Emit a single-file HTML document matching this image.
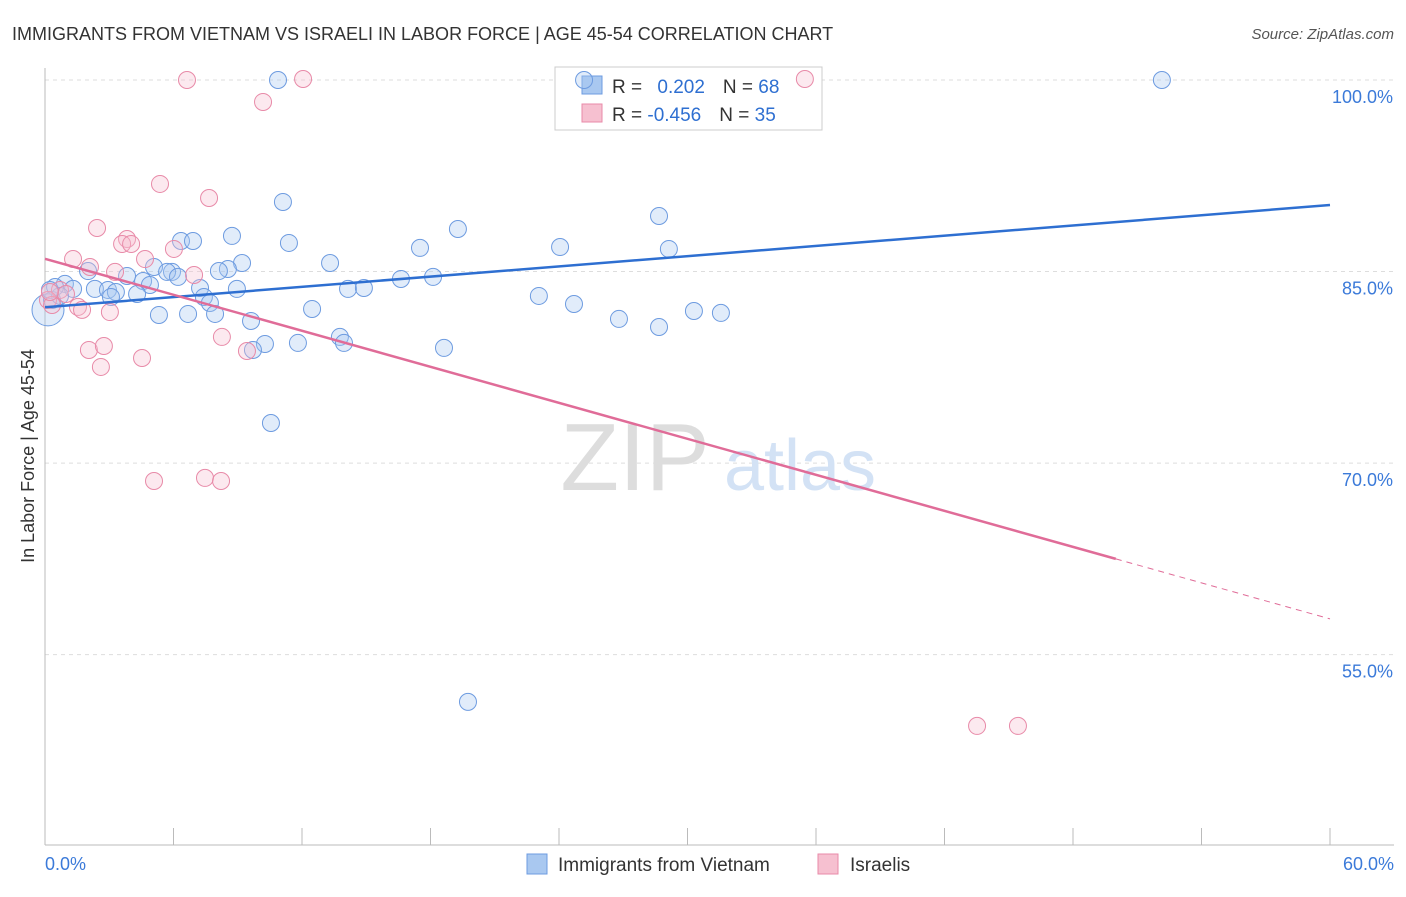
<!DOCTYPE html>
<html><head><meta charset="utf-8">
<style>
body{margin:0;background:#fff;font-family:"Liberation Sans",sans-serif;}
svg text{font-family:"Liberation Sans",sans-serif;}
</style></head>
<body>
<svg id="chart" width="1406" height="892" viewBox="0 0 1406 892" xmlns="http://www.w3.org/2000/svg">
<text x="12" y="40" font-size="18" fill="#333">IMMIGRANTS FROM VIETNAM VS ISRAELI IN LABOR FORCE | AGE 45-54 CORRELATION CHART</text>
<text x="1394" y="39" font-size="15" fill="#555" font-style="italic" text-anchor="end">Source: ZipAtlas.com</text>
<g id="grid"></g>
<g>
<text x="635" y="490" font-size="96" fill="#ddd" font-family="Liberation Serif" text-anchor="middle">ZIP</text>
<text x="800" y="490" font-size="72" fill="#d3e2f5" text-anchor="middle">atlas</text>
</g>
<g id="axes"></g>
<g>
<rect x="555" y="67" width="267" height="63" fill="#fff" stroke="#ccc"/>
<rect x="582" y="76" width="20" height="18" fill="#a9c8f0" stroke="#6d9be0"/>
<rect x="582" y="104" width="20" height="18" fill="#f6c0d0" stroke="#e88aa8"/>
<text x="612" y="93" font-size="19" fill="#333">R = <tspan fill="#2e6fd1" dx="10">0.202</tspan><tspan dx="18">N = </tspan><tspan fill="#2e6fd1">68</tspan></text>
<text x="612" y="121" font-size="19" fill="#333">R = <tspan fill="#2e6fd1">-0.456</tspan><tspan dx="18">N = </tspan><tspan fill="#2e6fd1">35</tspan></text>
</g>
<g id="pts"></g>
<g id="lines"></g>
<g>
<rect x="527" y="854" width="20" height="20" fill="#a9c8f0" stroke="#6d9be0"/>
<text x="558" y="871" font-size="19" fill="#333">Immigrants from Vietnam</text>
<rect x="818" y="854" width="20" height="20" fill="#f6c0d0" stroke="#e88aa8"/>
<text x="850" y="871" font-size="19" fill="#333">Israelis</text>
</g>
<text transform="translate(34,456) rotate(-90)" font-size="18" fill="#333" text-anchor="middle">In Labor Force | Age 45-54</text>
</svg>
<script>
const xTicks=[0,6,12,18,24,30,36,42,48,54,60];
const yTicks=[100,85,70,55];
const yTickLabels=["100.0%","85.0%","70.0%","55.0%"];
const blueX=[10.88,52.15,25.17,11.11,28.67,19.28,8.73,6.35,6.91,11.39,24.05,17.51,29.13,9.20,13.31,8.54,8.12,5.09,5.93,5.70,2.01,3.83,6.21,16.62,18.12,4.58,4.90,0.93,0.47,1.31,2.33,2.94,3.31,7.24,8.96,14.15,14.89,4.30,3.08,7.42,7.70,23.06,24.70,12.47,5.32,6.68,7.94,30.30,31.56,26.80,28.67,9.62,13.77,13.96,11.81,10.27,9.71,18.63,10.55,19.75,0.14,0.33,0.70,0.23];
const blueY=[100,100,100,90.45,89.35,88.33,87.79,87.39,87.39,87.24,86.92,86.85,86.77,85.67,85.67,85.2,85.04,85.36,84.97,84.97,85.04,84.65,84.58,84.42,84.58,84.26,83.95,84.03,83.79,83.64,83.64,83.56,83.4,83.71,83.64,83.64,83.71,83.24,83.01,83.01,82.54,83.09,82.46,82.07,81.6,81.68,81.68,81.91,81.76,81.29,80.66,81.13,79.88,79.41,79.41,79.33,78.86,79.02,73.14,51.3,82.0,82.77,83.09,83.56];
const pinkX=[6.63,12.05,35.48,10.18,5.37,7.66,2.43,3.83,3.60,4.02,1.31,4.67,6.02,2.10,3.27,6.96,0.70,0.98,1.54,1.73,3.03,0.14,0.33,8.26,2.05,2.75,9.43,4.53,2.61,5.09,7.47,8.22,43.52,45.43,0.23];
const pinkY=[100,100.08,100.08,98.28,91.86,90.76,88.41,87.55,87.16,87.16,85.98,85.98,86.77,85.36,84.97,84.73,83.56,83.24,82.23,82.0,81.83,82.77,82.38,79.88,78.86,79.17,78.78,78.23,77.53,68.6,68.84,68.6,49.42,49.42,83.4];
const blueTrend=[82.2,0.1335];
const pinkTrend=[86.0,-0.47];
const pinkSolidEnd=50;
const X=v=>45+v/60*1285;
const Y=v=>80+(100-v)*12.77;
const NS="http://www.w3.org/2000/svg";
function mk(tag,attrs,parent){const e=document.createElementNS(NS,tag);for(const k in attrs)e.setAttribute(k,attrs[k]);parent.appendChild(e);return e;}
const grid=document.getElementById('grid'),axes=document.getElementById('axes'),pts=document.getElementById('pts'),lines=document.getElementById('lines');
yTicks.forEach((t,i)=>{
 const l=mk('line',{x1:45,x2:1394,y1:Y(t),y2:Y(t),stroke:'#ddd','stroke-dasharray':'4,4'},grid);
 
 
 const tx=mk('text',{x:1393,y:Y(t)+23,'font-size':18,fill:'#3b7ad9','text-anchor':'end'},axes);
 tx.textContent=yTickLabels[i];
 
 
});
const ax=mk('line',{x1:45,x2:45,y1:68,y2:845,stroke:'#bbb'},axes);


const bx=mk('line',{x1:45,x2:1394,y1:845,y2:845,stroke:'#bbb'},axes);


xTicks.forEach(t=>{
 const l=mk('line',{x1:X(t),x2:X(t),y1:828,y2:845,stroke:'#bbb'},axes);
 
 
});
[[0,'0.0%','start',45],[60,'60.0%','end',1394]].forEach(d=>{
 const tx=mk('text',{x:d[3],y:870,'font-size':18,fill:'#3b7ad9','text-anchor':d[2]},axes);
 tx.textContent=d[1];
 
 
});
function dots(xs,ys,fill,stroke,name){
 xs.forEach((x,i)=>{
  const big=(x<0.2&&Math.abs(ys[i]-82)<0.1);
  const c=mk('circle',{cx:X(x),cy:Y(ys[i]),r:big?16:8.5,fill:fill,'fill-opacity':0.35,stroke:stroke,'stroke-width':1},pts);
  
  
 });
}
dots(blueX,blueY,'#a9c8f0','#6d9be0','vietnam-point');
dots(pinkX,pinkY,'#f6c0d0','#e88aa8','israeli-point');
const bl=mk('line',{x1:X(0),y1:Y(blueTrend[0]),x2:X(60),y2:Y(blueTrend[0]+blueTrend[1]*60),stroke:'#2e6fd1','stroke-width':2.5},lines);


const pl=mk('line',{x1:X(0),y1:Y(pinkTrend[0]),x2:X(pinkSolidEnd),y2:Y(pinkTrend[0]+pinkTrend[1]*pinkSolidEnd),stroke:'#e06c98','stroke-width':2.5},lines);


const pd=mk('line',{x1:X(pinkSolidEnd),y1:Y(pinkTrend[0]+pinkTrend[1]*pinkSolidEnd),x2:X(60),y2:Y(pinkTrend[0]+pinkTrend[1]*60),stroke:'#e06c98','stroke-width':1,'stroke-dasharray':'6,5'},lines);


</script>
</body></html>
